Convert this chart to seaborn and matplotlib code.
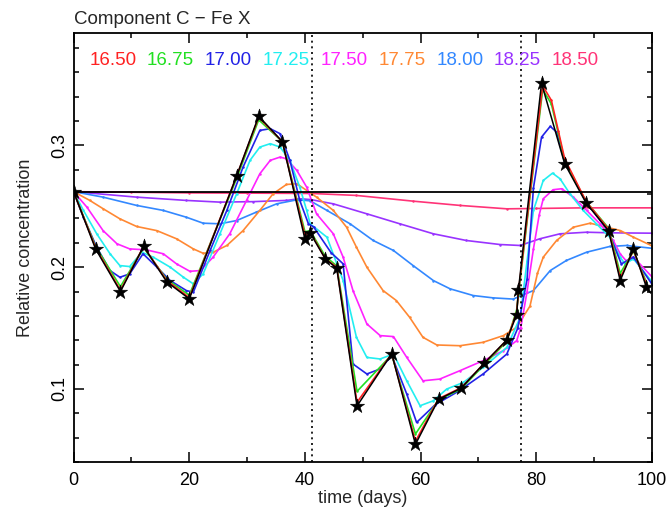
import numpy as np
import pandas as pd
import matplotlib
matplotlib.use("Agg")
import matplotlib.pyplot as plt
import seaborn as sns
from matplotlib.ticker import MultipleLocator

# Observed concentrations (stars)
obs_t = [0, 3.8, 8.1, 12.1, 16.1, 20.0, 28.2, 32.0, 36.1, 40.0, 40.9, 43.5, 45.5,
         49.0, 55.0, 59.1, 63.1, 67.0, 71.0, 74.9, 76.6, 76.9, 80.9, 84.9, 88.6,
         92.5, 94.5, 96.8, 99.0]
obs_c = [0.262, 0.215, 0.180, 0.217, 0.188, 0.174, 0.275, 0.324, 0.303, 0.223, 0.228,
         0.207, 0.199, 0.086, 0.129, 0.0545, 0.0915, 0.1006, 0.1212, 0.1403, 0.161,
         0.181, 0.351, 0.285, 0.2528, 0.2298, 0.189, 0.215, 0.184]

# Model curves, one per parameter value
t_1650 = [0, 3.8, 8.1, 12.1, 16.1, 20.0, 28.2, 32.0, 36.1, 40.0, 40.9, 43.5, 45.5,
          49.0, 55.0, 59.1, 63.1, 67.0, 71.0, 74.9, 76.6, 76.9, 81.1, 82.6, 83.8,
          84.9, 88.6, 92.5, 94.5, 96.8, 99.0]
c_1650 = [0.262, 0.216, 0.181, 0.217, 0.189, 0.175, 0.275, 0.323, 0.303, 0.226, 0.229,
          0.207, 0.200, 0.089, 0.129, 0.057, 0.092, 0.101, 0.121, 0.140, 0.163, 0.179,
          0.349, 0.337, 0.312, 0.289, 0.254, 0.231, 0.191, 0.214, 0.186]

t_1675 = t_1650
c_1675 = [0.262, 0.217, 0.184, 0.216, 0.190, 0.177, 0.273, 0.321, 0.303, 0.229, 0.230,
          0.209, 0.201, 0.098, 0.128, 0.063, 0.091, 0.100, 0.120, 0.139, 0.165, 0.177,
          0.346, 0.334, 0.310, 0.287, 0.254, 0.232, 0.195, 0.213, 0.188]

t_1700 = [0, 1.7, 4.0, 6.3, 8.0, 9.7, 12.0, 14.4, 16.7, 19.5, 20.7, 23.6, 26.5, 29.3,
          32.2, 34.0, 35.7, 37.4, 39.1, 40.6, 41.5, 44.5, 46.6, 48.3, 50.7, 53.0, 55.0,
          57.6, 59.3, 62.5, 66.5, 70.8, 74.9, 76.8, 78.4, 79.5, 80.9, 82.4, 83.5, 84.8,
          88.6, 92.4, 94.7, 96.8, 100]
c_1700 = [0.262, 0.241, 0.2164, 0.1972, 0.1917, 0.1945, 0.211, 0.200, 0.189, 0.1808,
          0.1794, 0.2137, 0.2466, 0.2822, 0.3123, 0.3137, 0.3096, 0.2877, 0.2548, 0.2356,
          0.2330, 0.212, 0.2027, 0.1205, 0.1123, 0.1164, 0.1273, 0.0958, 0.0725, 0.087,
          0.098, 0.1123, 0.1287, 0.150, 0.190, 0.265, 0.3068, 0.3156, 0.311, 0.2877,
          0.2534, 0.2300, 0.2027, 0.2082, 0.186]

t_1725 = [0, 1.7, 4.0, 6.3, 8.0, 9.7, 11.8, 13.8, 16.7, 19.0, 20.7, 22.4, 25.3, 28.2,
          30.5, 32.2, 34.0, 35.7, 37.4, 39.1, 40.3, 40.9, 43.8, 46.6, 48.9, 50.7, 53.0,
          55.3, 57.6, 59.9, 62.2, 64.5, 67.4, 70.8, 74.9, 77.2, 78.4, 79.5, 81.2, 82.8,
          84.1, 85.8, 88.1, 90.4, 92.7, 94.5, 95.3, 96.8, 100]
c_1725 = [0.262, 0.2466, 0.2274, 0.211, 0.2013, 0.2005, 0.2123, 0.2081, 0.200, 0.1917,
          0.1863, 0.1945, 0.2274, 0.2603, 0.2877, 0.2986, 0.3014, 0.2986, 0.2877, 0.2657,
          0.2466, 0.2356, 0.2246, 0.189, 0.1424, 0.1259, 0.1246, 0.1287, 0.1067, 0.0862,
          0.0903, 0.0999, 0.1054, 0.1177, 0.1341, 0.1587, 0.205, 0.2466, 0.2712, 0.2772,
          0.2726, 0.2603, 0.2466, 0.2356, 0.2246, 0.2082, 0.2027, 0.2068, 0.188]

t_1750 = [0, 2.3, 5.1, 7.5, 9.7, 12.6, 15.5, 17.8, 20.1, 21.9, 24.1, 27.0, 29.9, 32.2,
          34.0, 35.7, 36.8, 38.6, 40.3, 42.0, 44.9, 46.6, 48.3, 50.7, 53.0, 55.3, 57.6,
          60.4, 63.3, 66.8, 70.8, 74.3, 76.6, 77.3, 78.4, 79.5, 80.5, 81.2, 82.9, 84.4,
          86.4, 88.7, 91.0, 93.3, 94.5, 95.5, 96.8, 100]
c_1750 = [0.262, 0.2493, 0.230, 0.2192, 0.215, 0.2142, 0.211, 0.2027, 0.1966, 0.1972,
          0.2081, 0.2274, 0.2548, 0.2767, 0.2877, 0.2904, 0.289, 0.2794, 0.2657, 0.2438,
          0.2274, 0.2082, 0.1808, 0.1534, 0.1438, 0.143, 0.1259, 0.1067, 0.1081, 0.115,
          0.1232, 0.1314, 0.1396, 0.150, 0.180, 0.215, 0.243, 0.2562, 0.2636, 0.2644,
          0.2575, 0.2466, 0.2356, 0.2219, 0.2109, 0.2054, 0.2082, 0.192]

t_1775 = [0, 2.8, 5.1, 8.0, 10.9, 14.4, 17.8, 20.7, 22.4, 24.1, 26.5, 29.3, 32.2, 34.5,
          36.8, 38.6, 40.3, 42.0, 44.9, 47.2, 48.9, 50.7, 53.5, 55.8, 58.1, 60.4, 62.8,
          66.8, 70.8, 74.3, 76.6, 78.9, 80.2, 81.2, 83.5, 86.4, 89.3, 92.2, 94.5, 96.8,
          100]
c_1775 = [0.262, 0.2548, 0.248, 0.2397, 0.2334, 0.230, 0.2233, 0.215, 0.2114, 0.2122,
          0.2178, 0.230, 0.2466, 0.2603, 0.2679, 0.2685, 0.263, 0.2575, 0.2466, 0.2328,
          0.2164, 0.200, 0.1808, 0.1726, 0.1588, 0.1424, 0.1361, 0.1355, 0.1383, 0.1438,
          0.1506, 0.168, 0.195, 0.2082, 0.2219, 0.2328, 0.2361, 0.2328, 0.2301, 0.2246,
          0.2175]

t_1800 = [0, 5.1, 10.9, 15.5, 19.5, 22.4, 25.3, 28.2, 31.6, 35.1, 38.6, 40.9, 43.8,
          47.8, 51.8, 55.3, 58.7, 62.2, 65.1, 69.1, 72.5, 76.0, 79.5, 82.4, 85.2, 88.7,
          92.7, 95.6, 100]
c_1800 = [0.262, 0.2575, 0.2507, 0.2466, 0.241, 0.2361, 0.2356, 0.2383, 0.2452, 0.252,
          0.2553, 0.2545, 0.2466, 0.2356, 0.2219, 0.2137, 0.2013, 0.189, 0.1822, 0.1767,
          0.1748, 0.1738, 0.1808, 0.1972, 0.2055, 0.2123, 0.2170, 0.2178, 0.2155]

t_1825 = [0, 10.9, 19.5, 25.3, 31.0, 36.8, 39.1, 41.0, 44.9, 50.7, 56.4, 62.2, 67.9,
          73.7, 77.2, 80.6, 84.1, 88.7, 92.7, 100]
c_1825 = [0.262, 0.2575, 0.2548, 0.2534, 0.2538, 0.2548, 0.2562, 0.2555, 0.252, 0.2438,
          0.2356, 0.2274, 0.2219, 0.2186, 0.2178, 0.2233, 0.2274, 0.2287, 0.2282, 0.2279]

t_1850 = [0, 10, 20, 30, 41.2, 48.9, 58.7, 66.8, 74.9, 80, 88, 100]
c_1850 = [0.262, 0.2615, 0.261, 0.2608, 0.2605, 0.2589, 0.2542, 0.2507, 0.2479,
          0.2482, 0.2487, 0.2487]

labels = ["16.50", "16.75", "17.00", "17.25", "17.50", "17.75", "18.00", "18.25", "18.50"]
colors = ["#ff2222", "#22e022", "#2222e6", "#22eef0", "#ff22ff", "#ff8833",
          "#3388ff", "#9933ff", "#ff3377"]
curves = [(t_1650, c_1650), (t_1675, c_1675), (t_1700, c_1700), (t_1725, c_1725),
          (t_1750, c_1750), (t_1775, c_1775), (t_1800, c_1800), (t_1825, c_1825),
          (t_1850, c_1850)]

initial_level = 0.262
event_days = [41.3, 77.3]

sns.set_style("ticks")
plt.rcParams["font.family"] = ["Liberation Sans", "DejaVu Sans"]

fig = plt.figure(figsize=(6.69, 5.13), dpi=100)
ax = fig.add_axes([0.110, 0.0994, 0.8646, 0.8356])

frames = []
for lab, (t, c) in zip(labels, curves):
    frames.append(pd.DataFrame({"time": t, "conc": c, "param": lab}))
model = pd.concat(frames, ignore_index=True)

# Broader curves first so the sharp ones sit on top
for lab in labels[::-1]:
    sub = model[model["param"] == lab]
    sns.lineplot(data=sub, x="time", y="conc", ax=ax, color=colors[labels.index(lab)],
                 estimator=None, sort=False, lw=1.2, marker="o", markersize=1.8,
                 markeredgewidth=0, legend=False)

ax.axhline(initial_level, color="black", lw=1.3, zorder=3)
for d in event_days:
    ax.axvline(d, color="black", lw=1.2, ls=(0, (1.2, 2.2)), zorder=3)

obs = pd.DataFrame({"time": obs_t, "conc": obs_c})
sns.lineplot(data=obs, x="time", y="conc", ax=ax, color="black", estimator=None,
             sort=False, lw=1.1, zorder=4, legend=False)
sns.scatterplot(data=obs, x="time", y="conc", ax=ax, color="black", marker="*",
                s=115, edgecolor="black", linewidth=0.4, zorder=5, legend=False)

for i, (lab, col) in enumerate(zip(labels, colors)):
    ax.text(2.7 + 10 * i, 0.370, lab, color=col, fontsize=13.5, ha="left",
            va="center")

ax.set_xlim(0, 100)
ax.set_ylim(0.04, 0.392)
ax.xaxis.set_major_locator(MultipleLocator(20))
ax.xaxis.set_minor_locator(MultipleLocator(10))
ax.yaxis.set_major_locator(MultipleLocator(0.1))
ax.yaxis.set_minor_locator(MultipleLocator(0.02))
ax.tick_params(which="both", direction="in", top=True, right=True, width=1.1,
               colors="black", labelsize=13)
ax.tick_params(which="major", length=7)
ax.tick_params(which="minor", length=3.5)
ax.tick_params(axis="x", which="major", pad=7.5)
ax.set_yticks([0.1, 0.2, 0.3])
ax.set_yticklabels(["0.1", "0.2", "0.3"], rotation=90, va="center")
for sp in ax.spines.values():
    sp.set_linewidth(1.3)
    sp.set_color("black")

ax.set_xlabel("time (days)", fontsize=13, labelpad=0.5)
ax.set_ylabel("Relative concentration", fontsize=13, labelpad=13)
ax.set_title("Component C \u2212 Fe X", loc="left", fontsize=13.5, pad=7)

fig.savefig("out.png", dpi=100)
